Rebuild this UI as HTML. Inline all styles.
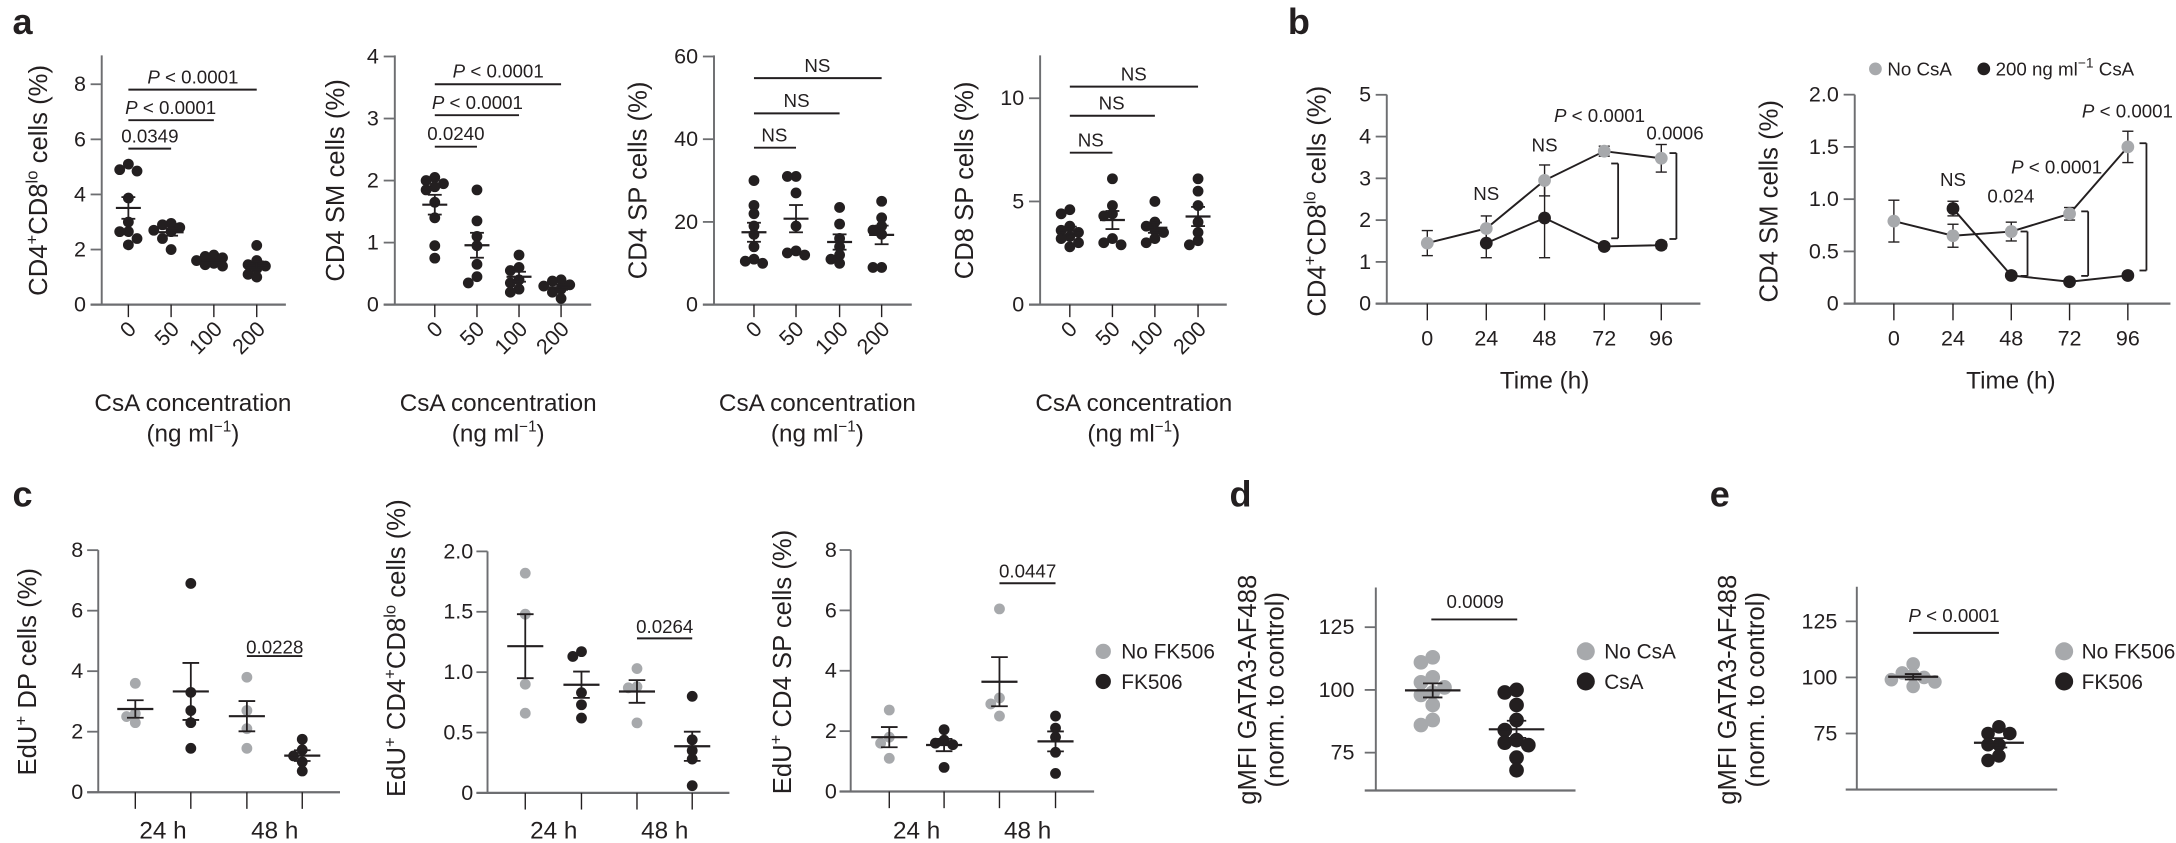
<!DOCTYPE html>
<html><head><meta charset="utf-8"><style>
html,body{margin:0;padding:0;background:#fff;}
svg{display:block;}
text{font-family:"Liberation Sans",sans-serif;fill:#231f20;}
.t{font-size:15.5px;}
.p{font-size:13.5px;}
.ti{font-size:17.5px;}
.yt{font-size:18.5px;}
.L{font-size:26px;font-weight:bold;}
.lg{font-size:15px;}
</style></head><body>
<svg id="s" width="2176" height="843" viewBox="0 0 1568 607.4" preserveAspectRatio="none" xmlns="http://www.w3.org/2000/svg">
<g id="geo"></g>
<text class="L" x="9" y="24.5">a</text>
<text class="L" x="928" y="24.5">b</text>
<text class="L" x="9" y="365">c</text>
<text class="L" x="886" y="365">d</text>
<text class="L" x="1232" y="365">e</text>

<g class="t" text-anchor="end">
<text x="62" y="224.5">0</text><text x="62" y="184.8">2</text><text x="62" y="145.1">4</text><text x="62" y="105.4">6</text><text x="62" y="65.7">8</text>
<text x="273" y="224.5">0</text><text x="273" y="179.8">1</text><text x="273" y="135.1">2</text><text x="273" y="90.4">3</text><text x="273" y="45.7">4</text>
<text x="503" y="224.5">0</text><text x="503" y="164.9">20</text><text x="503" y="105.3">40</text><text x="503" y="45.7">60</text>
<text x="738" y="224.5">0</text><text x="738" y="150.2">5</text><text x="738" y="75.8">10</text>
</g>
<g class="yt" text-anchor="middle">
<text transform="translate(34,130) rotate(-90)">CD4<tspan dy="-7" font-size="12">+</tspan><tspan dy="7">CD8</tspan><tspan dy="-7" font-size="12">lo</tspan><tspan dy="7"> cells (%)</tspan></text>
<text transform="translate(248,130) rotate(-90)">CD4 SM cells (%)</text>
<text transform="translate(466,130) rotate(-90)">CD4 SP cells (%)</text>
<text transform="translate(701,130) rotate(-90)">CD8 SP cells (%)</text>
</g>
<g class="t" text-anchor="end">
<text transform="translate(99,238) rotate(-45)">0</text>
<text transform="translate(130,238) rotate(-45)">50</text>
<text transform="translate(161,238) rotate(-45)">100</text>
<text transform="translate(192,238) rotate(-45)">200</text>
<text transform="translate(320,238) rotate(-45)">0</text>
<text transform="translate(350,238) rotate(-45)">50</text>
<text transform="translate(381,238) rotate(-45)">100</text>
<text transform="translate(411,238) rotate(-45)">200</text>
<text transform="translate(550,238) rotate(-45)">0</text>
<text transform="translate(580,238) rotate(-45)">50</text>
<text transform="translate(612,238) rotate(-45)">100</text>
<text transform="translate(642,238) rotate(-45)">200</text>
<text transform="translate(777,238) rotate(-45)">0</text>
<text transform="translate(808,238) rotate(-45)">50</text>
<text transform="translate(839,238) rotate(-45)">100</text>
<text transform="translate(870,238) rotate(-45)">200</text>
</g>
<g class="ti" text-anchor="middle">
<text x="139" y="296">CsA concentration</text><text x="139" y="318">(ng ml<tspan dy="-7" font-size="11">−1</tspan><tspan dy="7">)</tspan></text>
<text x="359" y="296">CsA concentration</text><text x="359" y="318">(ng ml<tspan dy="-7" font-size="11">−1</tspan><tspan dy="7">)</tspan></text>
<text x="589" y="296">CsA concentration</text><text x="589" y="318">(ng ml<tspan dy="-7" font-size="11">−1</tspan><tspan dy="7">)</tspan></text>
<text x="817" y="296">CsA concentration</text><text x="817" y="318">(ng ml<tspan dy="-7" font-size="11">−1</tspan><tspan dy="7">)</tspan></text>
</g>
<g class="p" text-anchor="middle">
<text x="108" y="102.5">0.0349</text>
<text x="123" y="82"><tspan font-style="italic">P</tspan> &lt; 0.0001</text>
<text x="139" y="60"><tspan font-style="italic">P</tspan> &lt; 0.0001</text>
<text x="328.5" y="101">0.0240</text>
<text x="344" y="78.5"><tspan font-style="italic">P</tspan> &lt; 0.0001</text>
<text x="359" y="56"><tspan font-style="italic">P</tspan> &lt; 0.0001</text>
<text x="558" y="102">NS</text>
<text x="574" y="77">NS</text>
<text x="589" y="52">NS</text>
<text x="786" y="105.5">NS</text>
<text x="801" y="79">NS</text>
<text x="817" y="58">NS</text>
</g>

<g class="t" text-anchor="end">
<text x="988" y="223.8">0</text><text x="988" y="193.7">1</text><text x="988" y="163.6">2</text><text x="988" y="133.5">3</text><text x="988" y="103.4">4</text><text x="988" y="73.3">5</text>
<text x="1325" y="223.8">0</text><text x="1325" y="186.2">0.5</text><text x="1325" y="148.5">1.0</text><text x="1325" y="110.9">1.5</text><text x="1325" y="73.2">2.0</text>
</g>
<g class="t" text-anchor="middle">
<text x="1028.5" y="249">0</text><text x="1071" y="249">24</text><text x="1113" y="249">48</text><text x="1156" y="249">72</text><text x="1197" y="249">96</text>
<text x="1364.7" y="249">0</text><text x="1407.3" y="249">24</text><text x="1449.3" y="249">48</text><text x="1491.3" y="249">72</text><text x="1533.3" y="249">96</text>
</g>
<g class="ti" text-anchor="middle">
<text x="1113" y="280">Time (h)</text>
<text x="1449" y="280">Time (h)</text>
</g>
<g class="yt" text-anchor="middle">
<text transform="translate(955,145) rotate(-90)">CD4<tspan dy="-7" font-size="12">+</tspan><tspan dy="7">CD8</tspan><tspan dy="-7" font-size="12">lo</tspan><tspan dy="7"> cells (%)</tspan></text>
<text transform="translate(1281,145) rotate(-90)">CD4 SM cells (%)</text>
</g>
<g class="p" text-anchor="middle">
<text x="1071" y="144">NS</text>
<text x="1113" y="109">NS</text>
<text x="1152.6" y="88"><tspan font-style="italic">P</tspan> &lt; 0.0001</text>
<text x="1207" y="100.5">0.0006</text>
<text x="1407.3" y="134">NS</text>
<text x="1449" y="146">0.024</text>
<text x="1482" y="125"><tspan font-style="italic">P</tspan> &lt; 0.0001</text>
<text x="1533" y="84.5"><tspan font-style="italic">P</tspan> &lt; 0.0001</text>
</g>
<g class="p">
<text x="1360" y="54.5">No CsA</text>
<text x="1438" y="54.5">200 ng ml<tspan dy="-6" font-size="10">−1</tspan><tspan dy="6"> CsA</tspan></text>
</g>

<g class="t" text-anchor="end">
<text x="60" y="575.8">0</text><text x="60" y="532.2">2</text><text x="60" y="488.6">4</text><text x="60" y="445">6</text><text x="60" y="401.4">8</text>
<text x="341" y="576.3">0</text><text x="341" y="532.8">0.5</text><text x="341" y="489.3">1.0</text><text x="341" y="445.8">1.5</text><text x="341" y="402.3">2.0</text>
<text x="603" y="575.3">0</text><text x="603" y="531.8">2</text><text x="603" y="488.3">4</text><text x="603" y="444.8">6</text><text x="603" y="401.3">8</text>
</g>
<g class="ti" text-anchor="middle">
<text x="117.5" y="604">24 h</text><text x="198" y="604">48 h</text>
<text x="399" y="604">24 h</text><text x="479" y="604">48 h</text>
<text x="660.5" y="604">24 h</text><text x="740.5" y="604">48 h</text>
</g>
<g class="yt" text-anchor="middle">
<text transform="translate(26,484) rotate(-90)">EdU<tspan dy="-7" font-size="12">+</tspan><tspan dy="7"> DP cells (%)</tspan></text>
<text transform="translate(292,467) rotate(-90)">EdU<tspan dy="-7" font-size="12">+</tspan><tspan dy="7"> CD4</tspan><tspan dy="-7" font-size="12">+</tspan><tspan dy="7">CD8</tspan><tspan dy="-7" font-size="12">lo</tspan><tspan dy="7"> cells (%)</tspan></text>
<text transform="translate(570,477) rotate(-90)">EdU<tspan dy="-7" font-size="12">+</tspan><tspan dy="7"> CD4 SP cells (%)</tspan></text>
</g>
<g class="p" text-anchor="middle">
<text x="198" y="471">0.0228</text>
<text x="479" y="456">0.0264</text>
<text x="740.5" y="416">0.0447</text>
</g>
<g class="lg">
<text x="808" y="474.5">No FK506</text>
<text x="808" y="496.5">FK506</text>
</g>

<g class="t" text-anchor="end">
<text x="976" y="456.9">125</text><text x="976" y="502.1">100</text><text x="976" y="547.3">75</text>
<text x="1324" y="452.8">125</text><text x="1324" y="493.1">100</text><text x="1324" y="533.5">75</text>
</g>
<g class="yt" text-anchor="middle">
<text transform="translate(905,497) rotate(-90)">gMFI GATA3-AF488</text>
<text transform="translate(925,497) rotate(-90)">(norm. to control)</text>
<text transform="translate(1251,497) rotate(-90)">gMFI GATA3-AF488</text>
<text transform="translate(1271,497) rotate(-90)">(norm. to control)</text>
</g>
<g class="p" text-anchor="middle">
<text x="1063" y="438">0.0009</text>
<text x="1408" y="448"><tspan font-style="italic">P</tspan> &lt; 0.0001</text>
</g>
<g class="lg">
<text x="1156" y="474.5">No CsA</text>
<text x="1156" y="496.5">CsA</text>
<text x="1500" y="474.5">No FK506</text>
<text x="1500" y="496.5">FK506</text>
</g>
</svg>
<script>
const NS='http://www.w3.org/2000/svg';
const G=document.getElementById('geo');
const BK='#231f20',GR='#a7a9ac',AX='#6d6e71';
function el(t,a){const e=document.createElementNS(NS,t);for(const k in a)e.setAttribute(k,a[k]);G.appendChild(e);return e;}
function line(x1,y1,x2,y2,c,w){el('line',{x1,y1,x2,y2,stroke:c||BK,'stroke-width':w||1.3});}
function dot(x,y,r,c){el('circle',{cx:x,cy:y,r,fill:c});}
function axes(xa,yb,xe,yt,yts,cats,tl){
  line(xa,yt,xa,yb,AX,1.4);line(xa-8,yb,xe,yb,AX,1.6);
  yts.forEach(y=>line(xa-8,y,xa,y,AX,1.3));
  (cats||[]).forEach(x=>line(x,yb,x,yb+(tl||9),BK,1));
}
function swarm(cx,vals,yf,r,col,mw,cw){
  const pl=[];const s=[...vals].sort((a,b)=>b-a);
  s.forEach(v=>{const y=yf(v);
    for(const k of [0,-1,1,-2,2,-3,3,-4,4]){const x=cx+k*r*1.6;
      if(pl.every(p=>Math.hypot(p[0]-x,p[1]-y)>=2*r*0.75)){pl.push([x,y]);break;}}});
  pl.forEach(p=>dot(p[0],p[1],r,col));
  const n=vals.length,m=vals.reduce((a,b)=>a+b,0)/n;
  const sd=Math.sqrt(vals.reduce((a,b)=>a+(b-m)*(b-m),0)/(n-1)),se=sd/Math.sqrt(n);
  line(cx-mw/2,yf(m),cx+mw/2,yf(m),BK,1.6);
  line(cx,yf(m-se),cx,yf(m+se),BK,1.3);
  line(cx-cw/2,yf(m-se),cx+cw/2,yf(m-se),BK,1.3);
  line(cx-cw/2,yf(m+se),cx+cw/2,yf(m+se),BK,1.3);
}
function hbr(x1,x2,y){line(x1,y,x2,y,BK,1.4);}
(function(){
 const P=[
  {xa:73.3,xe:206,cats:[92.5,123.3,154.1,185],yf:v=>219.5-19.85*v,ticks:[0,2,4,6,8],
   d:[[4.85,4.9,5.1,3.87,3.0,2.65,2.65,2.17,2.4],[2.95,2.9,2.8,2.65,2.4,2.0,2.7],[1.8,1.75,1.7,1.6,1.5,1.45,1.4],[2.15,1.6,1.45,1.4,1.3,1.1,1.0]],
   br:[[0,1,107.1],[0,2,86.6],[0,3,64.6]]},
  {xa:284.5,xe:426,cats:[313.3,343.7,374,404.3],yf:v=>219.5-44.7*v,ticks:[0,1,2,3,4],
   d:[[2.05,2.0,1.95,1.9,1.85,1.65,1.4,0.95,0.75],[1.85,1.35,1.1,0.95,0.65,0.45,0.35],[0.8,0.6,0.55,0.4,0.35,0.25,0.2],[0.4,0.38,0.32,0.3,0.25,0.2,0.1]],
   br:[[0,1,105.7],[0,2,83],[0,3,60.7]]},
  {xa:514.5,xe:657,cats:[543.3,573.6,605,635.3],yf:v=>219.5-2.98*v,ticks:[0,20,40,60],
   d:[[30,24,22,19,17,14,11,10.5,10],[31,31,27,19,13,12.5,12],[23.5,19.5,16,14,12,11,10],[25,21,19,18,17,9,9]],
   br:[[0,1,106.4],[0,2,81.7],[0,3,56.3]]},
  {xa:749.5,xe:884,cats:[770.9,801.6,832.2,863.3],yf:v=>219.5-14.87*v,ticks:[0,5,10],
   d:[[4.6,4.4,3.8,3.6,3.5,3.3,3.2,3.0,2.8],[6.1,4.8,4.4,4.3,3.2,3.0,2.9],[5.0,4.0,3.8,3.6,3.5,3.2,3.0],[6.1,5.5,4.8,4.0,3.5,3.1,2.9]],
   br:[[0,1,110],[0,2,83.4],[0,3,62.4]]}];
 P.forEach(p=>{axes(p.xa,219.5,p.xe,39.9,p.ticks.map(p.yf),p.cats,9);
  p.d.forEach((v,i)=>swarm(p.cats[i],v,p.yf,3.9,BK,18,10));
  p.br.forEach(b=>hbr(p.cats[b[0]],p.cats[b[1]],b[2]));});
})();
(function(){
 function ts(cats,yf,gray,black,r){
  function ser(pts,col){
   const P=pts.map(p=>[cats[p[0]],yf(p[1])]);
   el('polyline',{points:P.map(p=>p.join(',')).join(' '),fill:'none',stroke:BK,'stroke-width':1.4});
   pts.forEach(p=>{const x=cats[p[0]];if(p[2]){line(x,yf(p[1]-p[2]),x,yf(p[1]+p[2]),BK,1);line(x-4,yf(p[1]-p[2]),x+4,yf(p[1]-p[2]),BK,1);line(x-4,yf(p[1]+p[2]),x+4,yf(p[1]+p[2]),BK,1);}});
   pts.forEach(p=>dot(cats[p[0]],yf(p[1]),r,col));
  }
  ser(black,BK);ser(gray,GR);
 }
 const c1=[1028.5,1071,1113,1156,1197.1],y1=v=>218.8-30.1*v;
 axes(999.3,218.8,1225.3,68.2,[0,1,2,3,4,5].map(y1),c1,12);
 ts(c1,y1,[[0,1.45,0.3],[1,1.8,0.3],[2,2.95,0.37],[3,3.65,0.12],[4,3.48,0.33]],[[1,1.45,0.35],[2,2.05,0.95],[3,1.37,0.07],[4,1.4,0.08]],4.6);
 function vbr(x,ya,yb){line(x,ya,x,yb,BK,1.3);line(x-5,ya,x,ya,BK,1.3);line(x-5,yb,x,yb,BK,1.3);}
 vbr(1166,117.8,171.7);vbr(1208,110.3,172.2);
 const c2=[1364.7,1407.3,1449.3,1491.3,1533.3],y2=v=>218.8-75.3*v;
 axes(1336.5,218.8,1564,68.2,[0,0.5,1,1.5,2].map(y2),c2,12);
 ts(c2,y2,[[0,0.79,0.2],[1,0.65,0.11],[2,0.69,0.09],[3,0.86,0.06],[4,1.5,0.15]],[[1,0.91,0.07],[2,0.27,0],[3,0.21,0],[4,0.27,0]],4.6);
 vbr(1461,166.8,198.8);vbr(1504.7,152.3,198.8);vbr(1546.7,103.2,194.9);
 dot(1351.4,49.6,4.6,GR);dot(1429.5,49.6,4.6,BK);
})();
(function(){
 const P=[
  {xa:70.8,yb:570.8,xe:245,cats:[97.5,137.5,177.9,217.8],yf:v=>570.8-21.8*v,ticks:[0,2,4,6,8],
   d:[[3.6,2.6,2.5,2.3],[6.9,3.3,2.7,2.3,1.45],[3.8,2.1,1.45,2.7],[1.75,1.4,1.2,1.0,0.7]],br:4.5},
  {xa:351.3,yb:571.3,xe:525.6,cats:[378.5,419,459,498.8],yf:v=>571.3-87*v,ticks:[0,0.5,1,1.5,2],
   d:[[1.82,1.48,0.9,0.66],[1.17,1.13,0.83,0.73,0.62],[1.03,0.88,0.87,0.58],[0.8,0.44,0.35,0.28,0.06]],br:1.28},
  {xa:613,yb:570.3,xe:788.4,cats:[640.8,680.3,720.2,760.6],yf:v=>570.3-21.75*v,ticks:[0,2,4,6,8],
   d:[[2.7,1.8,1.6,1.1],[2.05,1.7,1.6,1.55,0.8],[6.05,3.1,2.9,2.5],[2.5,2.1,1.8,1.3,0.6]],br:6.9}];
 P.forEach(p=>{axes(p.xa,p.yb,p.xe,p.yf(p.ticks[p.ticks.length-1]),p.ticks.map(p.yf),p.cats,12);
  p.d.forEach((v,i)=>swarm(p.cats[i],v,p.yf,3.9,i%2?BK:GR,26,12));
  hbr(p.cats[2],p.cats[3],p.yf(p.br));});
 dot(795,469.3,5.5,GR);dot(795,491,5.5,BK);
})();
(function(){
 const yd=v=>497.1-(v-100)*1.808;
 axes(991.4,569.6,1135.3,423.3,[125,100,75].map(yd),[],0);
 swarm(1032.4,[113,111,105,103,101,99,98,94,88,86],yd,5.3,GR,40,14);
 swarm(1092.8,[100,99,94,88,84,80,79,78,73,68],yd,5.3,BK,40,14);
 hbr(1031.4,1093.3,446.3);
 dot(1142.7,469.3,6.5,GR);dot(1142.7,491,6.5,BK);
 const ye=v=>488.1-(v-100)*1.616;
 axes(1338,568.9,1482.4,422.8,[125,100,75].map(ye),[],0);
 swarm(1378.6,[106,102,101,100,99,98,96],ye,4.9,GR,36,12);
 swarm(1440.4,[78,75,75,70,70,65,63],ye,4.9,BK,36,12);
 hbr(1378.6,1440.4,456);
 dot(1487.4,469.3,6.5,GR);dot(1487.4,491,6.5,BK);
})();
</script>
</body></html>
